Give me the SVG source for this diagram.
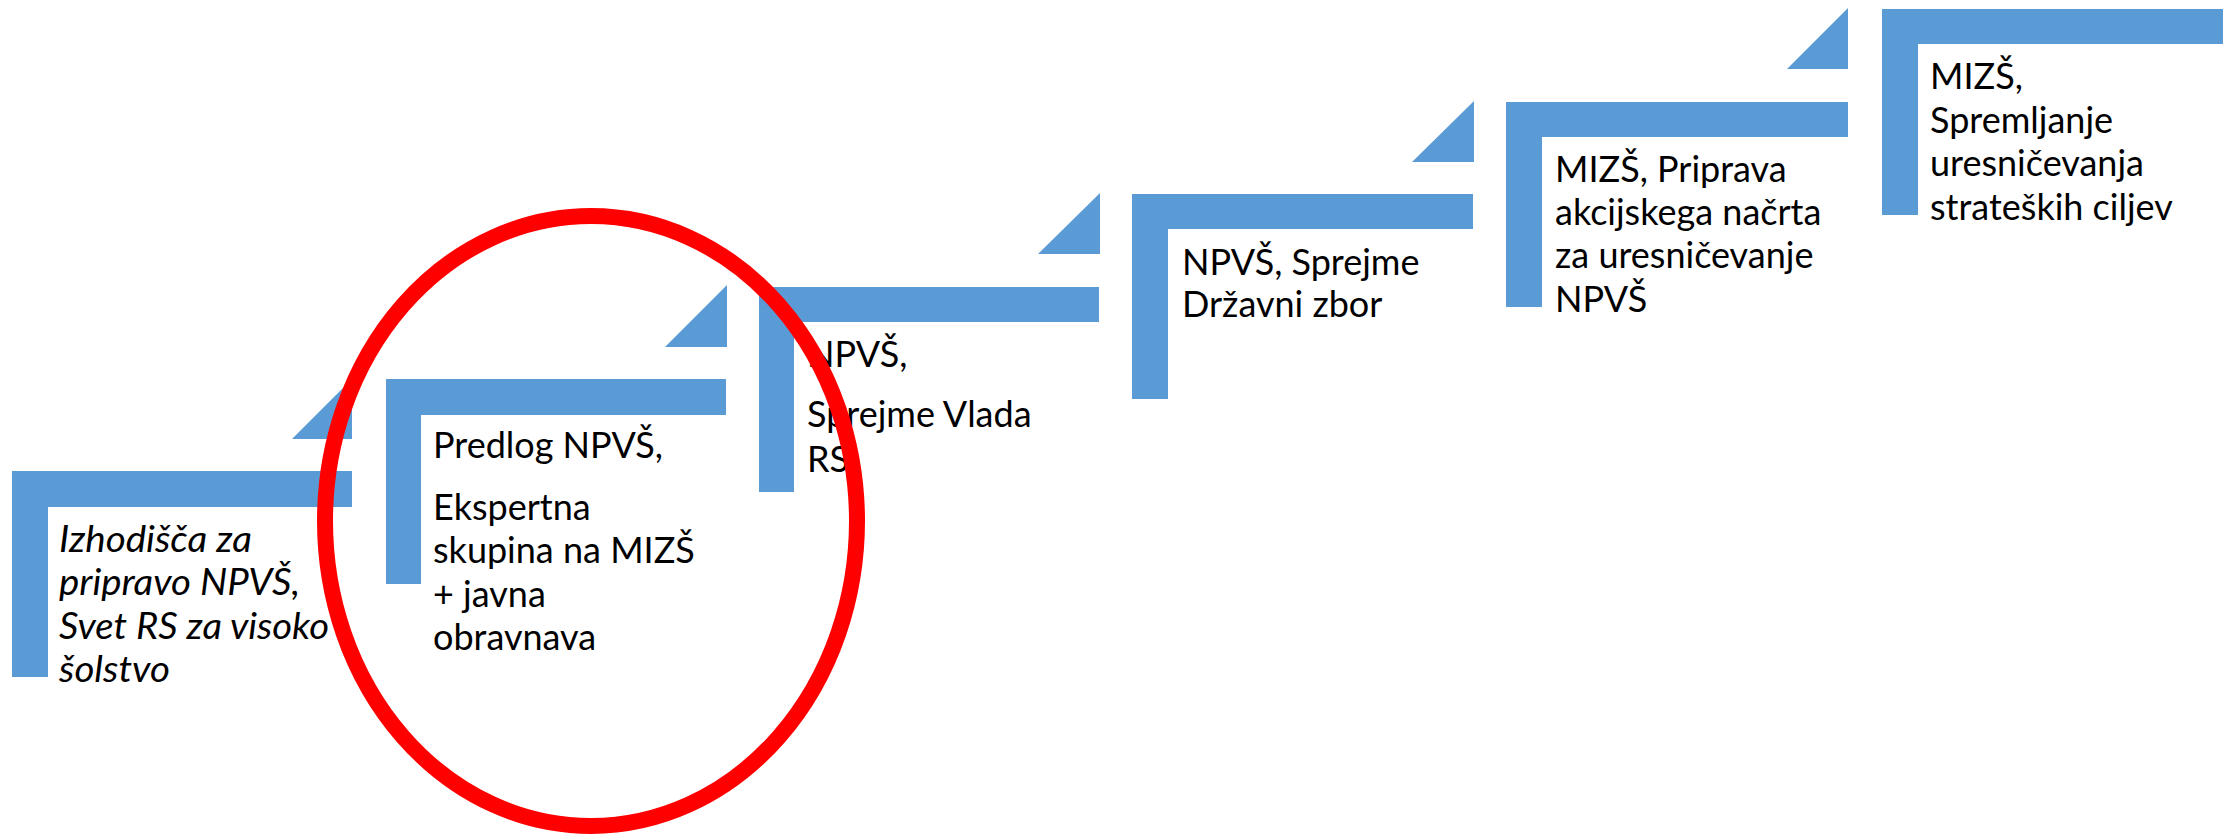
<svg xmlns="http://www.w3.org/2000/svg" width="2229" height="834" viewBox="0 0 2229 834">
<style>
.bar{fill:#5B9BD5}
.tri{fill:#5B9BD5}
.t{font-family:Lato,"Liberation Sans",sans-serif;font-size:36px;fill:#000}
.i{font-style:italic}
.ring{fill:none;stroke:#FF0000;stroke-width:16}
</style>
<rect width="2229" height="834" fill="#fff"/>
<g id="connectors">
<polygon class="tri" points="292,439 352,439 352,379"/>
<polygon class="tri" points="665,347 727,347 727,285"/>
<polygon class="tri" points="1038,254 1100,254 1100,193"/>
<polygon class="tri" points="1412,162 1474,162 1474,101"/>
<polygon class="tri" points="1787,69 1848,69 1848,8"/>
</g>
<g id="step1">
<path class="bar" d="M12 471H352V507H48V677H12Z"/>
<text class="t i"><tspan x="59" y="552" textLength="193" lengthAdjust="spacingAndGlyphs">Izhodišča za</tspan><tspan x="59" y="595" textLength="241" lengthAdjust="spacingAndGlyphs">pripravo NPVŠ,</tspan><tspan x="59" y="639" textLength="270" lengthAdjust="spacingAndGlyphs">Svet RS za visoko</tspan><tspan x="59" y="682" textLength="111" lengthAdjust="spacingAndGlyphs">šolstvo</tspan></text>
</g>
<g id="step2">
<path class="bar" d="M386 379H726V415H421V584H386Z"/>
<text class="t"><tspan x="433" y="458">Predlog NPVŠ,</tspan><tspan x="433" y="520">Ekspertna</tspan><tspan x="433" y="563">skupina na MIZŠ</tspan><tspan x="433" y="607">+ javna</tspan><tspan x="433" y="650">obravnava</tspan></text>
</g>
<g id="step3">
<path class="bar" d="M759 287H1099V322H794V492H759Z"/>
<text class="t"><tspan x="807" y="367">NPVŠ,</tspan><tspan x="807" y="427">Sprejme Vlada</tspan><tspan x="807" y="472">RS</tspan></text>
</g>
<g id="step4">
<path class="bar" d="M1132 194H1473V229H1168V399H1132Z"/>
<text class="t"><tspan x="1182" y="275">NPVŠ, Sprejme</tspan><tspan x="1182" y="317">Državni zbor</tspan></text>
</g>
<g id="step5">
<path class="bar" d="M1506 102H1848V137H1542V307H1506Z"/>
<text class="t"><tspan x="1555" y="182">MIZŠ, Priprava</tspan><tspan x="1555" y="225">akcijskega načrta</tspan><tspan x="1555" y="268">za uresničevanje</tspan><tspan x="1555" y="312">NPVŠ</tspan></text>
</g>
<g id="step6">
<path class="bar" d="M1882 9H2223V44H1918V215H1882Z"/>
<text class="t"><tspan x="1930" y="89">MIZŠ,</tspan><tspan x="1930" y="133">Spremljanje</tspan><tspan x="1930" y="176">uresničevanja</tspan><tspan x="1930" y="220">strateških ciljev</tspan></text>
</g>
<g id="highlight">
<ellipse class="ring" cx="591" cy="521" rx="266" ry="305"/>
</g>
</svg>
